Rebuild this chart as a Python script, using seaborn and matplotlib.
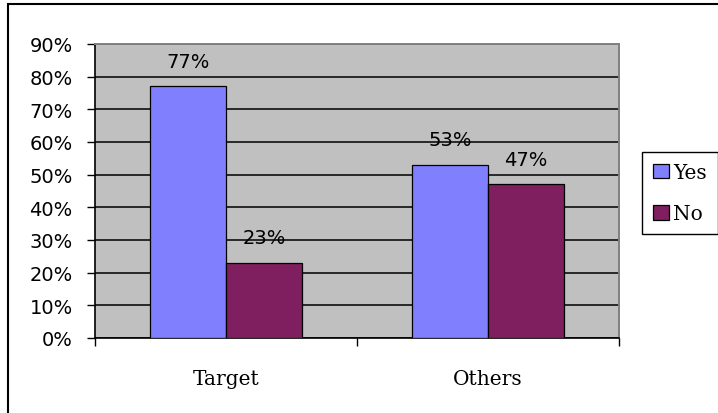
import matplotlib
matplotlib.use("Agg")
import matplotlib.pyplot as plt
from matplotlib.patches import Rectangle
from matplotlib.ticker import FixedLocator
import seaborn as sns
import pandas as pd

categories = ["Target", "Others"]
answers = ["Yes", "No"]
yes_values = [77, 53]
no_values = [23, 47]
y_ticks = [0, 10, 20, 30, 40, 50, 60, 70, 80, 90]
colors = ["#8080FF", "#801F5F"]

df = pd.DataFrame({
    "group": categories * 2,
    "answer": ["Yes"] * 2 + ["No"] * 2,
    "value": yes_values + no_values,
})

sns.set_style("white")
plt.rcParams["font.family"] = ["DejaVu Sans"]
plt.rcParams["text.color"] = "black"
plt.rcParams["xtick.color"] = "black"
plt.rcParams["ytick.color"] = "black"
plt.rcParams["xtick.labelcolor"] = "black"
plt.rcParams["ytick.labelcolor"] = "black"

fig = plt.figure(figsize=(7.18, 4.14), dpi=100)
ax = fig.add_axes([95 / 718, 1 - 339 / 414, 524 / 718, 294 / 414])
ax.set_facecolor("#C0C0C0")

sns.barplot(data=df, x="group", y="value", hue="answer", order=categories,
            hue_order=answers, palette=colors, width=0.58, gap=0,
            edgecolor="black", linewidth=0.9, saturation=1, ax=ax, zorder=3)

ax.set_xlim(-0.5, 1.5)
ax.set_ylim(0, 90)
ax.set_yticks(y_ticks)
ax.set_yticklabels([f"{t}%" for t in y_ticks], fontsize=14, family="DejaVu Sans",
                   color="black")
ax.yaxis.grid(True, color="black", linewidth=1.1, zorder=1)
ax.set_axisbelow(True)
ax.tick_params(axis="y", direction="out", length=6, width=1, pad=10, color="black", left=True)

ax.set_xticks([0, 1])
ax.set_xticklabels(categories, fontsize=14.5, family="DejaVu Serif", color="black")
ax.xaxis.set_minor_locator(FixedLocator([-0.5, 0.5, 1.5]))
ax.tick_params(axis="x", which="major", length=0, pad=22)
ax.tick_params(axis="x", which="minor", direction="out", length=5.5, width=1, color="black", bottom=True)
ax.set_xlabel("")
ax.set_ylabel("")

for side in ["left", "bottom"]:
    ax.spines[side].set_color("black")
    ax.spines[side].set_linewidth(1.2)
for side in ["top", "right"]:
    ax.spines[side].set_visible(True)
    ax.spines[side].set_color("#808080")
    ax.spines[side].set_linewidth(1.4)

vals_by_hue = [yes_values, no_values]
for container, vals in zip(ax.containers, vals_by_hue):
    for patch, v in zip(container.patches, vals):
        xc = patch.get_x() + patch.get_width() / 2
        ax.annotate(f"{v}%", (xc, patch.get_height()), xytext=(0, 18),
                    textcoords="offset points", ha="center", va="center",
                    fontsize=14, family="DejaVu Sans", color="black", zorder=5)

handles, labels = ax.get_legend_handles_labels()
if ax.get_legend() is not None:
    ax.get_legend().remove()
leg = fig.legend(handles, labels, loc="upper left",
                 bbox_to_anchor=(642 / 718, 1 - 153 / 414),
                 prop={"family": "DejaVu Serif", "size": 14.5},
                 frameon=True, fancybox=False, framealpha=1, edgecolor="black",
                 handlelength=0.8, handleheight=0.75, handletextpad=0.2,
                 labelspacing=1.1, borderpad=0.55, borderaxespad=0)
leg.get_frame().set_linewidth(1.0)
for t in leg.get_texts():
    t.set_color("black")

fig.add_artist(Rectangle((8 / 718, -0.2), 1.5, 1.2 - 5 / 414,
                         transform=fig.transFigure, fill=False,
                         edgecolor="black", linewidth=1.5, clip_on=False))

fig.savefig("out.png", dpi=100, facecolor="white")
